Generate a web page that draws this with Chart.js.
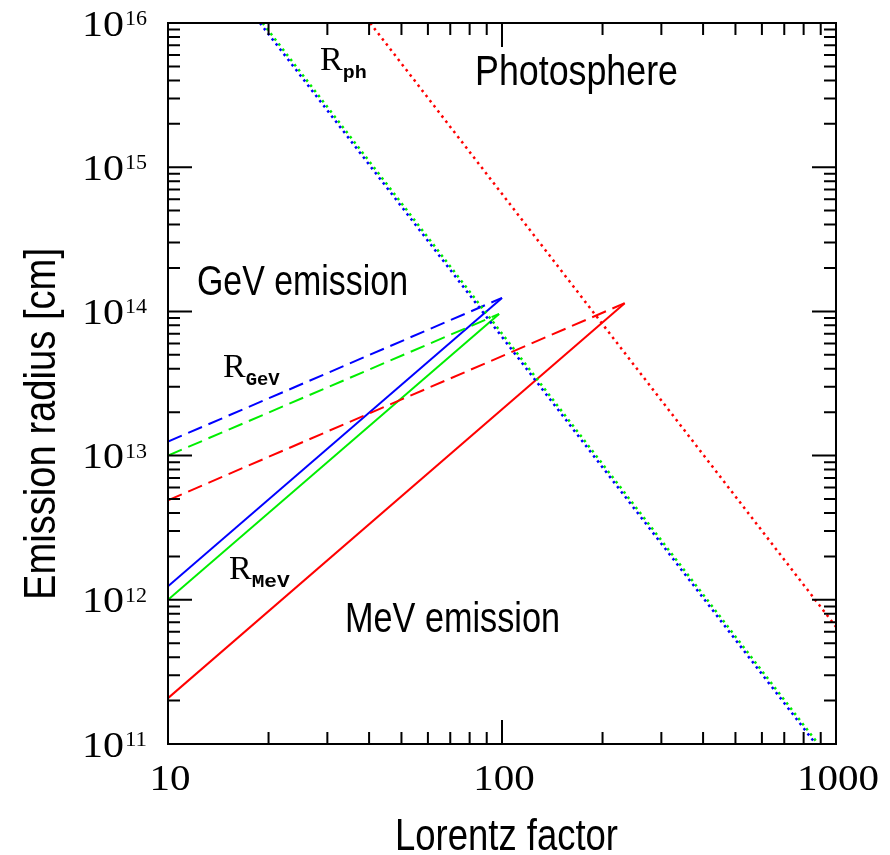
<!DOCTYPE html>
<html>
<head>
<meta charset="utf-8">
<script src="https://cdn.jsdelivr.net/npm/chart.js@4"></script>
<style>
  html, body { margin: 0; padding: 0; background: #fff; }
  #wrap { width: 890px; height: 855px; position: relative; }
</style>
</head>
<body>
<div id="wrap"><canvas id="radiusChart"></canvas></div>
<script>
// axis ticks
const xTicks = [10, 100, 1000];
const yExponents = [11, 12, 13, 14, 15, 16];

// MeV emission radius (solid), Lorentz factor -> radius [cm]
const mevBlueG = [10, 100];   const mevBlueR = [1.24e12, 1.24e14];
const mevGreenG = [10, 98];   const mevGreenR = [1.0e12, 9.6e13];
const mevRedG = [10, 233];    const mevRedR = [2.08e11, 1.14e14];

// GeV emission radius (dashed)
const gevBlueG = [10, 100];   const gevBlueR = [1.25e13, 1.24e14];
const gevGreenG = [10, 98];   const gevGreenR = [1.0e13, 9.6e13];
const gevRedG = [10, 233];    const gevRedR = [4.9e12, 1.14e14];

// photosphere radius (dotted)
const phBlueG = [18.85, 870]; const phBlueR = [1e16, 1e11];
const phGreenG = [19.2, 885]; const phGreenR = [1e16, 1e11];
const phRedG = [40.3, 1000];  const phRedR = [1e16, 6.5e11];

const BLUE = '#0000ff', GREEN = '#00ee00', RED = '#ff0000';

const pts = (xs, ys) => xs.map((x, i) => ({ x: x, y: ys[i] }));
const line = (xs, ys, color, dash, width) => ({
    data: pts(xs, ys),
    borderColor: color,
    borderWidth: width || 2,
    borderDash: dash,
    borderCapStyle: 'butt',
    showLine: true,
    pointRadius: 0,
    fill: false
});

const DASH = [15, 7];
const DOT = [2.5, 4];

// draw text squeezed/stretched to a given width (the original font is condensed)
function drawText(ctx, text, x, y, font, width, rot, align) {
    ctx.save();
    ctx.font = font;
    const w = ctx.measureText(text).width;
    ctx.translate(x, y);
    if (rot) ctx.rotate(rot);
    ctx.scale(width / w, 1);
    ctx.textAlign = 'left';
    ctx.textBaseline = 'alphabetic';
    ctx.fillStyle = '#000';
    let x0 = 0;
    if (align === 'center') x0 = -w / 2;
    if (align === 'right') x0 = -w;
    ctx.fillText(text, x0, 0);
    ctx.restore();
}

const frame = {
    id: 'frame',
    afterDraw(chart) {
        const ctx = chart.ctx;
        const a = chart.chartArea;
        const xs = chart.scales.x, ys = chart.scales.y;
        ctx.save();
        ctx.strokeStyle = '#000';
        ctx.lineWidth = 2;
        ctx.strokeRect(a.left, a.top, a.right - a.left, a.bottom - a.top);

        // x ticks, inward on bottom and top
        ctx.beginPath();
        for (let d = 10; d < 1000; d *= 10) {
            for (let m = 1; m <= 10; m++) {
                const px = xs.getPixelForValue(d * m);
                const len = (m === 1 || m === 10) ? 24 : 12;
                ctx.moveTo(px, a.bottom); ctx.lineTo(px, a.bottom - len);
                ctx.moveTo(px, a.top); ctx.lineTo(px, a.top + len);
            }
        }
        // y ticks, inward on left and right
        for (let e = 11; e < 16; e++) {
            for (let m = 1; m <= 10; m++) {
                const py = ys.getPixelForValue(m * Math.pow(10, e));
                const len = (m === 1 || m === 10) ? 24 : 12;
                ctx.moveTo(a.left, py); ctx.lineTo(a.left + len, py);
                ctx.moveTo(a.right, py); ctx.lineTo(a.right - len, py);
            }
        }
        ctx.stroke();

        // tick labels
        ctx.fillStyle = '#000';
        xTicks.forEach(v => {
            const s = String(v);
            drawText(ctx, s, xs.getPixelForValue(v) + 2, a.bottom + 46,
                '36px "Liberation Serif"', s.length * 20.5, 0, 'center');
        });
        yExponents.forEach(e => {
            const py = ys.getPixelForValue(Math.pow(10, e));
            const rightX = a.left - 21;
            drawText(ctx, String(e), rightX, py + 2, '21px "Liberation Serif"', 22, 0, 'right');
            drawText(ctx, '10', rightX - 23, py + 12.5, '36px "Liberation Serif"', 42, 0, 'right');
        });

        // axis titles
        drawText(ctx, 'Lorentz factor', 395, 850, '44px "Liberation Sans"', 223);
        drawText(ctx, 'Emission radius [cm]', 55, 600, '44px "Liberation Sans"', 352, -Math.PI / 2);

        // region labels
        drawText(ctx, 'Photosphere', 475, 85, '42px "Liberation Sans"', 203);
        drawText(ctx, 'GeV emission', 197, 295, '43px "Liberation Sans"', 211);
        drawText(ctx, 'MeV emission', 345, 632, '42px "Liberation Sans"', 215);

        // curve labels R_ph, R_GeV, R_MeV
        const rLabel = (x, y, sub, subW) => {
            ctx.font = '34px "Liberation Serif"';
            ctx.textAlign = 'left';
            ctx.fillText('R', x, y);
            const rw = ctx.measureText('R').width;
            drawText(ctx, sub, x + rw, y + 8, 'bold 19px "Liberation Mono"', subW);
        };
        rLabel(320, 70, 'ph', 24);
        rLabel(223, 377, 'GeV', 34);
        rLabel(229, 579, 'MeV', 38);
        ctx.restore();
    }
};

new Chart(document.getElementById('radiusChart').getContext('2d'), {
    type: 'scatter',
    data: {
        datasets: [
            line(phBlueG, phBlueR, BLUE, DOT, 2.5),
            line(phGreenG, phGreenR, GREEN, DOT, 2.5),
            line(phRedG, phRedR, RED, DOT, 2.5),
            line(gevBlueG, gevBlueR, BLUE, DASH),
            line(gevGreenG, gevGreenR, GREEN, DASH),
            line(gevRedG, gevRedR, RED, DASH),
            line(mevBlueG, mevBlueR, BLUE, []),
            line(mevGreenG, mevGreenR, GREEN, []),
            line(mevRedG, mevRedR, RED, [])
        ]
    },
    options: {
        responsive: true,
        maintainAspectRatio: false,
        animation: false,
        layout: { padding: { left: 168, top: 23, right: 54, bottom: 111 } },
        plugins: { legend: { display: false }, tooltip: { enabled: false } },
        scales: {
            x: { type: 'logarithmic', min: 10, max: 1000, display: false },
            y: { type: 'logarithmic', min: 1e11, max: 1e16, display: false }
        }
    },
    plugins: [frame]
});
</script>
</body>
</html>
